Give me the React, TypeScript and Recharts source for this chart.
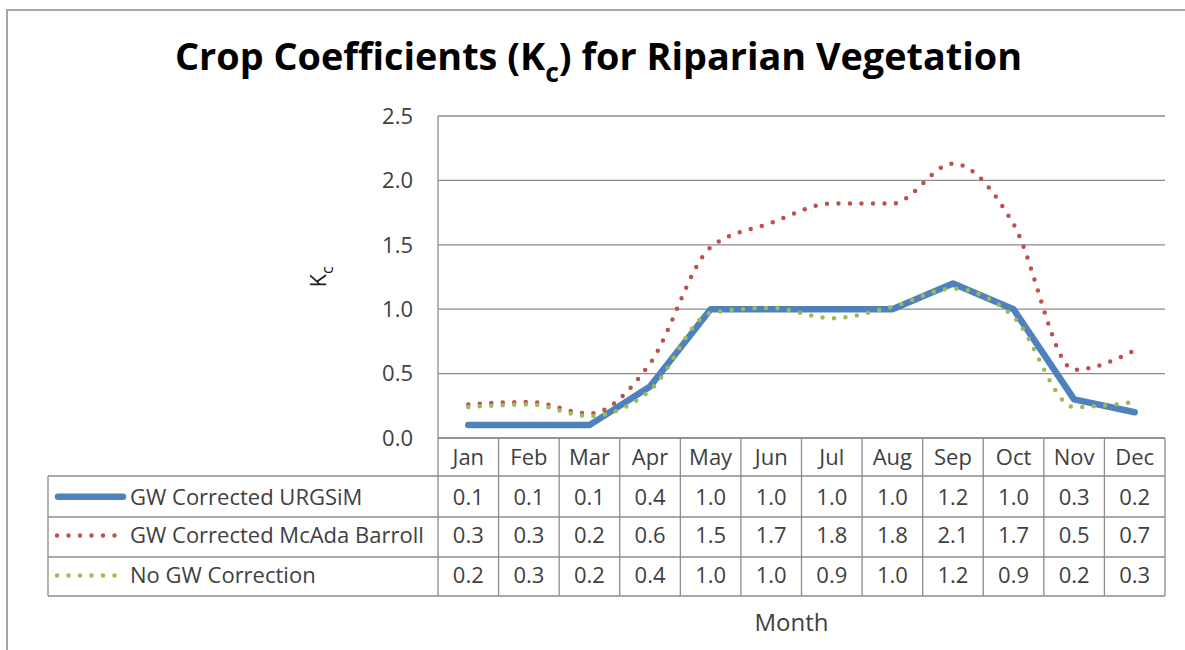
import React from 'react';
import { LineChart, Line, XAxis, YAxis, CartesianGrid } from 'recharts';

// ---------- data ----------
const MONTHS = ['Jan', 'Feb', 'Mar', 'Apr', 'May', 'Jun', 'Jul', 'Aug', 'Sep', 'Oct', 'Nov', 'Dec'];
const URGSIM = [0.1, 0.1, 0.1, 0.4, 1.0, 1.0, 1.0, 1.0, 1.2, 1.0, 0.3, 0.2];
const MCADA = [0.26, 0.28, 0.19, 0.58, 1.48, 1.67, 1.82, 1.82, 2.13, 1.66, 0.53, 0.68];
const NOGW = [0.24, 0.26, 0.17, 0.37, 0.97, 1.01, 0.93, 1.02, 1.16, 0.94, 0.24, 0.28];
const Y_TICKS = [0, 0.5, 1.0, 1.5, 2.0, 2.5];

const SERIES = [
  { key: 'urgsim', name: 'GW Corrected URGSiM', values: URGSIM },
  { key: 'mcada', name: 'GW Corrected McAda Barroll', values: MCADA },
  { key: 'nogw', name: 'No GW Correction', values: NOGW },
];

const data = MONTHS.map((m, i) => ({ month: m, urgsim: URGSIM[i], mcada: MCADA[i], nogw: NOGW[i] }));

// ---------- layout ----------
const W = 1169;
const H = 634;
const PLOT_LEFT = 430;
const PLOT_RIGHT = 1157;
const PLOT_TOP = 108;
const PLOT_BOTTOM = 430;
const YAXIS_W = 60;
const XAXIS_H = 180;
const COL_W = (PLOT_RIGHT - PLOT_LEFT) / MONTHS.length;
const ROW_LINES = [PLOT_BOTTOM, 468, 509, 549, 588];
const ROW_CENTERS = [448.7, 488.7, 527.5, 567.5];
const LABEL_LEFT = 40;
const FONT = "'Open Sans', 'DejaVu Sans', sans-serif";
const GRID = '#8c8c8c';
const TEXT = '#404040';
const FS = 22;
const BLUE = '#4F81BD';
const RED = '#C0504D';
const GREEN = '#9BBB59';
const DOT_DASH = '0 11.5';

const base = (c: number) => c + FS * 0.357;

const LegendKey = ({ k, y }: { k: string; y: number }) => {
  if (k === 'urgsim')
    return <line x1={50} x2={115} y1={y} y2={y} stroke={BLUE} strokeWidth={6.5} strokeLinecap="round" />;
  const color = k === 'mcada' ? RED : GREEN;
  return (
    <line x1={49} x2={107} y1={y} y2={y} stroke={color} strokeWidth={4.5} strokeLinecap="round" strokeDasharray={DOT_DASH} />
  );
};

const TableTick = (props: any) => {
  const { x, payload } = props;
  const i: number = payload.index ?? props.index;
  const left = x - COL_W / 2;
  const right = x + COL_W / 2;
  return (
    <g>
      <line x1={left} x2={left} y1={PLOT_BOTTOM} y2={ROW_LINES[4]} stroke={GRID} strokeWidth={1.3} />
      {i === MONTHS.length - 1 && (
        <line x1={right} x2={right} y1={PLOT_BOTTOM} y2={ROW_LINES[4]} stroke={GRID} strokeWidth={1.3} />
      )}
      {ROW_LINES.slice(1).map((ly) => (
        <line key={ly} x1={left} x2={right} y1={ly} y2={ly} stroke={GRID} strokeWidth={1.3} />
      ))}
      <text x={x} y={base(ROW_CENTERS[0])} textAnchor="middle" fontFamily={FONT} fontSize={FS} fill={TEXT}>
        {payload.value}
      </text>
      {SERIES.map((s, r) => (
        <text key={s.key} x={x} y={base(ROW_CENTERS[r + 1])} textAnchor="middle" fontFamily={FONT} fontSize={FS} fill={TEXT}>
          {s.values[i].toFixed(1)}
        </text>
      ))}
      {i === 0 && (
        <g>
          <line x1={LABEL_LEFT} x2={LABEL_LEFT} y1={ROW_LINES[1]} y2={ROW_LINES[4]} stroke={GRID} strokeWidth={1.3} />
          {ROW_LINES.slice(1).map((ly) => (
            <line key={ly} x1={LABEL_LEFT} x2={left} y1={ly} y2={ly} stroke={GRID} strokeWidth={1.3} />
          ))}
          {SERIES.map((s, r) => (
            <g key={s.key}>
              <LegendKey k={s.key} y={ROW_CENTERS[r + 1]} />
              <text x={122} y={base(ROW_CENTERS[r + 1])} textAnchor="start" fontFamily={FONT} fontSize={FS} fill={TEXT}>
                {s.name}
              </text>
            </g>
          ))}
        </g>
      )}
    </g>
  );
};

const MonthLabel = () => (
  <text x={783.5} y={623} textAnchor="middle" fontFamily={FONT} fontSize={24} fill={TEXT}>
    Month
  </text>
);

const KcLabel = () => (
  <text
    x={318}
    y={269}
    transform="rotate(-90, 318, 269)"
    textAnchor="middle"
    fontFamily={FONT}
    fontSize={FS}
    fill="#202020"
  >
    K<tspan dy={7} fontSize={16}>c</tspan>
  </text>
);

export default function App() {
  return (
    <div style={{ position: 'relative', width: W, height: H }}>
      <div
        style={{
          position: 'fixed',
          left: 6,
          top: 9,
          width: 1179,
          height: 641,
          borderLeft: '2px solid #a6a6a6',
          borderTop: '2px solid #a6a6a6',
          boxSizing: 'border-box',
          zIndex: 5,
          pointerEvents: 'none',
        }}
      />
      <svg width={W} height={100} style={{ position: 'absolute', left: 0, top: 0, pointerEvents: 'none' }}>
        <text
          x={590.5}
          y={62}
          textAnchor="middle"
          fontFamily={FONT}
          fontWeight={700}
          fontSize={37}
          fill="#000"
          textLength={847}
          lengthAdjust="spacingAndGlyphs"
        >
          Crop Coefficients (K<tspan dy={12} fontSize={26}>c</tspan>
          <tspan dy={-12}>) for Riparian Vegetation</tspan>
        </text>
      </svg>
      <div style={{ position: 'absolute', left: 0, top: 0 }}>
        <LineChart
          width={W}
          height={H}
          data={data}
          margin={{ top: PLOT_TOP, right: W - PLOT_RIGHT, left: PLOT_LEFT - YAXIS_W, bottom: H - PLOT_BOTTOM - XAXIS_H }}
        >
          <CartesianGrid vertical={false} stroke={GRID} strokeWidth={1.3} />
          <XAxis
            dataKey="month"
            interval={0}
            height={XAXIS_H}
            padding={{ left: COL_W / 2, right: COL_W / 2 }}
            tickLine={false}
            axisLine={{ stroke: GRID, strokeWidth: 1.3 }}
            tick={(p: any) => <TableTick {...p} />}
            label={<MonthLabel />}
          />
          <YAxis
            width={YAXIS_W}
            domain={[0, 2.5]}
            ticks={Y_TICKS}
            tickFormatter={(v: number) => v.toFixed(1)}
            tickSize={0}
            tickMargin={25}
            tickLine={false}
            axisLine={{ stroke: GRID, strokeWidth: 1.3 }}
            tick={{ fontFamily: FONT, fontSize: FS, fill: TEXT }}
            label={<KcLabel />}
          />
          <Line
            dataKey="urgsim"
            type="linear"
            stroke={BLUE}
            strokeWidth={6.5}
            strokeLinecap="round"
            strokeLinejoin="round"
            dot={false}
            activeDot={false}
            isAnimationActive={false}
          />
          <Line
            dataKey="mcada"
            type="monotone"
            stroke={RED}
            strokeWidth={4.5}
            strokeLinecap="round"
            strokeDasharray={DOT_DASH}
            dot={false}
            activeDot={false}
            isAnimationActive={false}
          />
          <Line
            dataKey="nogw"
            type="monotone"
            stroke={GREEN}
            strokeWidth={4.5}
            strokeLinecap="round"
            strokeDasharray={DOT_DASH}
            dot={false}
            activeDot={false}
            isAnimationActive={false}
          />
        </LineChart>
      </div>
    </div>
  );
}
